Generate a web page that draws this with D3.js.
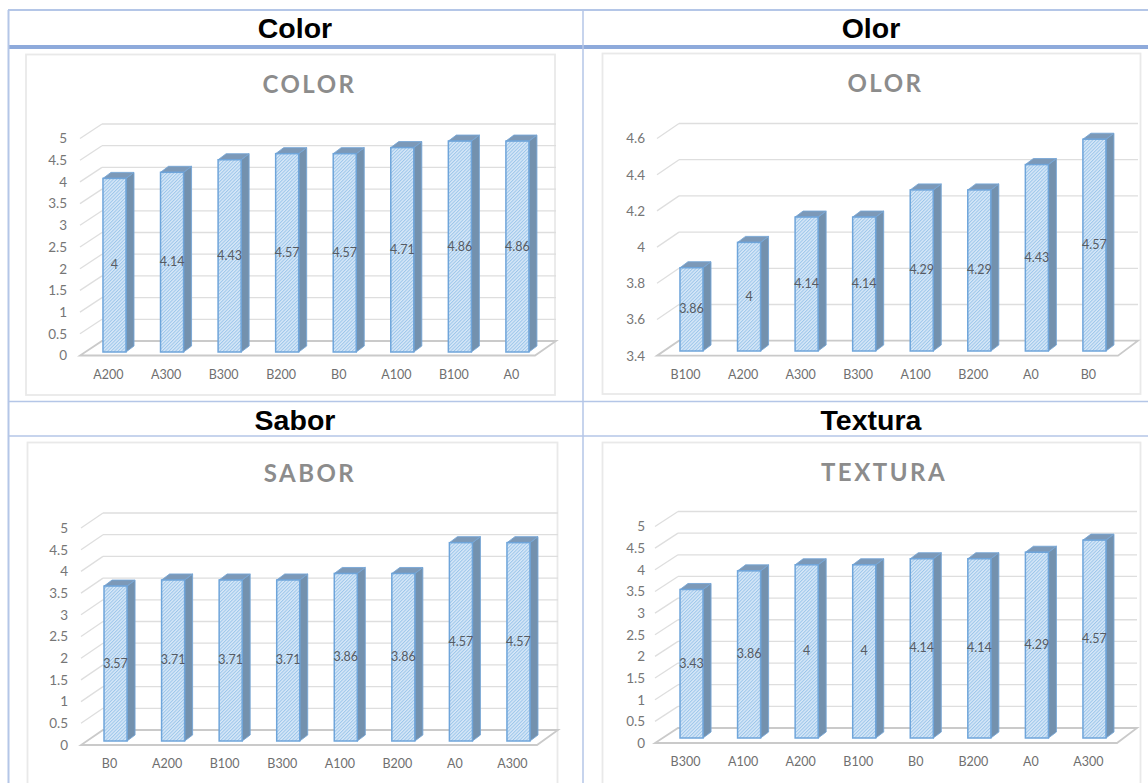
<!DOCTYPE html>
<html>
<head>
    <meta charset="utf-8">
    <title>Color, Olor, Sabor, Textura</title>
    <script src="https://d3js.org/d3.v7.min.js"></script>
    <style>
        html, body { margin: 0; padding: 0; background: #fff; }
        svg { display: block; }
        .head { font: bold 28.5px "Liberation Sans", Arial, sans-serif; fill: #000; text-anchor: middle; }
        .title { font: bold 24px Lato, "Open Sans", sans-serif; fill: #8c8c8c; letter-spacing: 2.5px; text-anchor: middle; }
        .tick-label { font: 13.5px Lato, "Open Sans", sans-serif; fill: #767676; }
        .cat-label { font: 12.5px Lato, "Open Sans", sans-serif; fill: #6f6f6f; text-anchor: middle; }
        .val-label { font: 12.5px Lato, "Open Sans", sans-serif; fill: #565b63; text-anchor: middle; }
    </style>
</head>
<body>
    <svg width="1148" height="783"></svg>
    <script>
        // Valores de cada atributo sensorial
        const colorCats = ["A200", "A300", "B300", "B200", "B0", "A100", "B100", "A0"];
        const colorVals = [4, 4.14, 4.43, 4.57, 4.57, 4.71, 4.86, 4.86];
        const olorCats = ["B100", "A200", "A300", "B300", "A100", "B200", "A0", "B0"];
        const olorVals = [3.86, 4, 4.14, 4.14, 4.29, 4.29, 4.43, 4.57];
        const saborCats = ["B0", "A200", "B100", "B300", "A100", "B200", "A0", "A300"];
        const saborVals = [3.57, 3.71, 3.71, 3.71, 3.86, 3.86, 4.57, 4.57];
        const texturaCats = ["B300", "A100", "A200", "B100", "B0", "B200", "A0", "A300"];
        const texturaVals = [3.43, 3.86, 4, 4, 4.14, 4.14, 4.29, 4.57];
        const ticksFull = [0, 0.5, 1, 1.5, 2, 2.5, 3, 3.5, 4, 4.5, 5];
        const ticksOlor = [3.4, 3.6, 3.8, 4, 4.2, 4.4, 4.6];

        const svg = d3.select("svg");
        const defs = svg.append("defs");

        // Trama diagonal de las barras
        const hatch = defs.append("pattern")
            .attr("id", "hatch")
            .attr("width", 2.4)
            .attr("height", 2.4)
            .attr("patternUnits", "userSpaceOnUse")
            .attr("patternTransform", "rotate(45)");
        hatch.append("rect").attr("width", 2.4).attr("height", 2.4).attr("fill", "#d8e8f8");
        hatch.append("rect").attr("width", 1).attr("height", 2.4).attr("fill", "#9cc6ea");

        // Tabla exterior
        const tableLines = [
            [8, 10, 1148, 10, 2, "#b4c6e7"],
            [8, 47, 1148, 47, 4, "#8eaadb"],
            [8, 401.5, 1148, 401.5, 1.5, "#b4c6e7"],
            [8, 436, 1148, 436, 1.5, "#b4c6e7"],
            [8.5, 10, 8.5, 783, 2, "#b4c6e7"],
            [583, 10, 583, 783, 1.5, "#b4c6e7"]
        ];
        svg.selectAll("line.table")
            .data(tableLines)
            .enter()
            .append("line")
            .attr("class", "table")
            .attr("x1", d => d[0])
            .attr("y1", d => d[1])
            .attr("x2", d => d[2])
            .attr("y2", d => d[3])
            .attr("stroke-width", d => d[4])
            .attr("stroke", d => d[5]);

        const heads = [["Color", 295, 38], ["Olor", 871, 38], ["Sabor", 295, 430], ["Textura", 871, 430]];
        svg.selectAll("text.head")
            .data(heads)
            .enter()
            .append("text")
            .attr("class", "head")
            .attr("x", d => d[1])
            .attr("y", d => d[2])
            .text(d => d[0]);

        // Dibuja un gráfico de columnas con falsa perspectiva 3D
        function drawChart(cfg) {
            const g = svg.append("g");

            g.append("rect")
                .attr("x", cfg.box[0])
                .attr("y", cfg.box[1])
                .attr("width", cfg.box[2])
                .attr("height", cfg.box[3])
                .attr("fill", "#fff")
                .attr("stroke", "#e9e9e9")
                .attr("stroke-width", 1.8);

            g.append("text")
                .attr("class", "title")
                .attr("x", cfg.titleX)
                .attr("y", cfg.titleY)
                .text(cfg.title);

            const x = d3.scaleBand()
                .domain(cfg.cats)
                .range([cfg.x0, cfg.x0 + 460.5])
                .paddingInner(0.6)
                .paddingOuter(0.3);
            const y = d3.scaleLinear()
                .domain(cfg.domain)
                .range([cfg.base, cfg.top]);

            const backOff = cfg.floorBack - cfg.base;
            const frontOff = cfg.floorFront - cfg.base;

            // Líneas de la cuadrícula: pared del fondo y lateral
            g.selectAll("line.grid")
                .data(cfg.ticks.slice(1))
                .enter()
                .append("line")
                .attr("x1", cfg.backLeft)
                .attr("x2", cfg.backRight)
                .attr("y1", d => y(d) + backOff)
                .attr("y2", d => y(d) + backOff)
                .attr("stroke", "#dedede")
                .attr("stroke-width", 1.3);
            g.selectAll("line.side")
                .data(cfg.ticks.slice(1))
                .enter()
                .append("line")
                .attr("x1", cfg.frontLeft)
                .attr("x2", cfg.backLeft)
                .attr("y1", d => y(d) + frontOff)
                .attr("y2", d => y(d) + backOff)
                .attr("stroke", "#dedede")
                .attr("stroke-width", 1.3);

            // Suelo del gráfico
            g.append("path")
                .attr("d", d3.line()([
                    [cfg.backLeft, cfg.floorBack],
                    [cfg.backRight, cfg.floorBack],
                    [cfg.frontRight, cfg.floorFront],
                    [cfg.frontLeft, cfg.floorFront]
                ]) + "Z")
                .attr("fill", "#fff")
                .attr("stroke", "#cacaca")
                .attr("stroke-width", 1.8);

            // Eje vertical
            const axis = d3.axisLeft(y)
                .tickValues(cfg.ticks)
                .tickSize(0)
                .tickPadding(0)
                .tickFormat(d3.format("~g"));
            g.append("g")
                .attr("transform", `translate(${cfg.tickX},${frontOff})`)
                .call(axis)
                .call(a => a.select(".domain").remove())
                .selectAll("text")
                .attr("class", "tick-label")
                .attr("style", null)
                .attr("fill", null);
            g.selectAll(".tick-label").attr("font-size", null).attr("font-family", null);

            const data = cfg.cats.map((c, i) => ({ cat: c, val: cfg.vals[i] }));
            const w = x.bandwidth();
            const dx = 8;
            const dy = 6;

            const bars = g.selectAll("g.bar")
                .data(data)
                .enter()
                .append("g")
                .attr("class", "bar");

            // Cara lateral
            bars.append("path")
                .attr("d", d => d3.line()([
                    [x(d.cat) + w, y(d.val)],
                    [x(d.cat) + w + dx, y(d.val) - dy],
                    [x(d.cat) + w + dx, cfg.base - dy],
                    [x(d.cat) + w, cfg.base]
                ]) + "Z")
                .attr("fill", "#7391ae")
                .attr("stroke", "#76a6d6")
                .attr("stroke-width", 0.9);

            // Cara superior
            bars.append("path")
                .attr("d", d => d3.line()([
                    [x(d.cat), y(d.val)],
                    [x(d.cat) + dx, y(d.val) - dy],
                    [x(d.cat) + w + dx, y(d.val) - dy],
                    [x(d.cat) + w, y(d.val)]
                ]) + "Z")
                .attr("fill", "#7c99b8")
                .attr("stroke", "#76a6d6")
                .attr("stroke-width", 0.9);

            // Cara frontal con trama
            bars.append("rect")
                .attr("x", d => x(d.cat))
                .attr("y", d => y(d.val))
                .attr("width", w)
                .attr("height", d => cfg.base - y(d.val))
                .attr("fill", "url(#hatch)")
                .attr("stroke", "#6fa5da")
                .attr("stroke-width", 1.5);

            bars.append("text")
                .attr("class", "val-label")
                .attr("x", d => x(d.cat) + w / 2)
                .attr("y", d => (y(d.val) + cfg.base) / 2 + 4)
                .text(d => d.val);

            bars.append("text")
                .attr("class", "cat-label")
                .attr("x", d => x(d.cat) + w / 2 - 6)
                .attr("y", cfg.catY)
                .text(d => d.cat);
        }

        drawChart({
            title: "COLOR", cats: colorCats, vals: colorVals, ticks: ticksFull, domain: [0, 5],
            box: [26, 54.5, 529, 340.5], titleX: 309.5, titleY: 93,
            x0: 85.7, base: 352, top: 135, floorFront: 355.5, floorBack: 341,
            frontLeft: 80, backLeft: 102, frontRight: 535, backRight: 556, tickX: 67, catY: 379
        });
        drawChart({
            title: "OLOR", cats: olorCats, vals: olorVals, ticks: ticksOlor, domain: [3.4, 4.6],
            box: [602.5, 53.5, 538, 340.5], titleX: 885.5, titleY: 92,
            x0: 662.7, base: 351, top: 133.8, floorFront: 355.7, floorBack: 340.7,
            frontLeft: 657, backLeft: 679, frontRight: 1118, backRight: 1138, tickX: 645, catY: 379
        });
        drawChart({
            title: "SABOR", cats: saborCats, vals: saborVals, ticks: ticksFull, domain: [0, 5],
            box: [27.5, 442.5, 530, 345], titleX: 310, titleY: 482,
            x0: 86.75, base: 741, top: 524, floorFront: 745, floorBack: 730,
            frontLeft: 81, backLeft: 103, frontRight: 537, backRight: 558, tickX: 68, catY: 768
        });
        drawChart({
            title: "TEXTURA", cats: texturaCats, vals: texturaVals, ticks: ticksFull, domain: [0, 5],
            box: [602.5, 442.5, 538, 345], titleX: 884, titleY: 481,
            x0: 662.75, base: 738, top: 521.5, floorFront: 743, floorBack: 728,
            frontLeft: 655, backLeft: 678, frontRight: 1117, backRight: 1137, tickX: 645, catY: 766
        });
    </script>
</body>
</html>
